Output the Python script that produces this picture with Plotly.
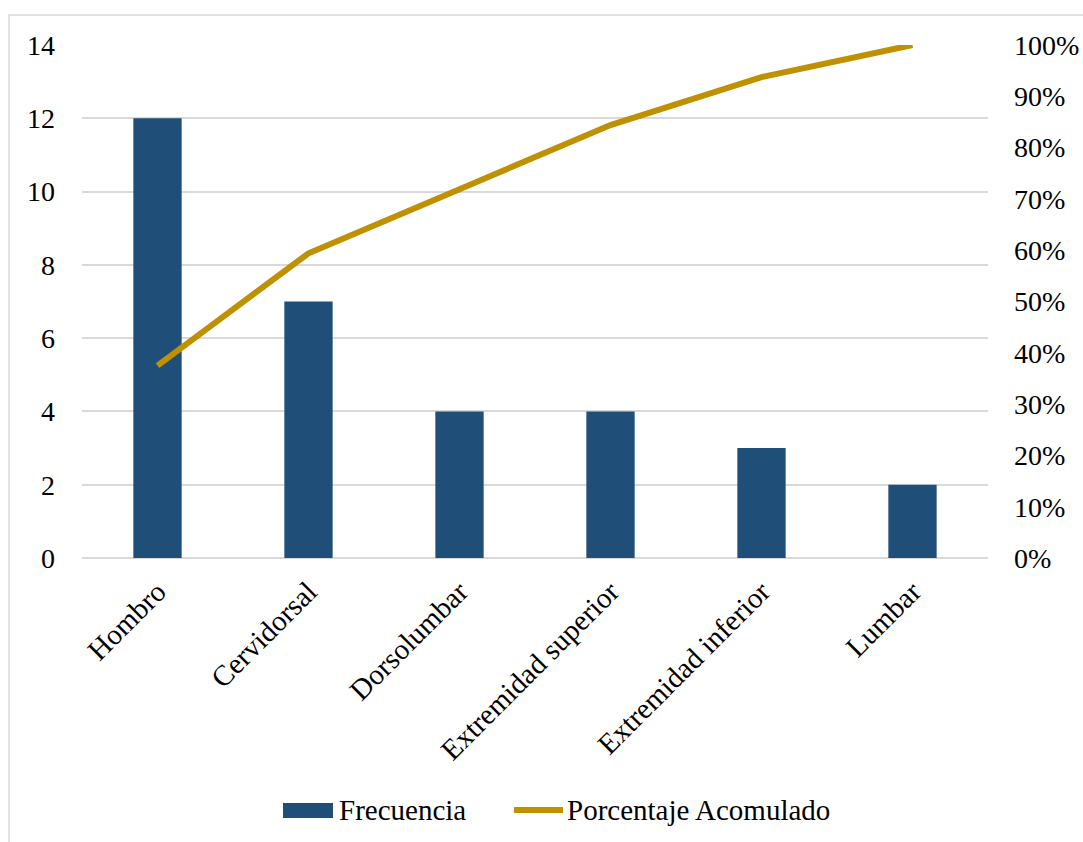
import plotly.graph_objects as go

categories = ["Hombro", "Cervidorsal", "Dorsolumbar", "Extremidad superior", "Extremidad inferior", "Lumbar"]
frecuencia = [12, 7, 4, 4, 3, 2]
acumulado = [0.375, 0.594, 0.719, 0.844, 0.9375, 1.0]
left_ticks = [0, 2, 4, 6, 8, 10, 12, 14]
right_ticks = [0, 0.1, 0.2, 0.3, 0.4, 0.5, 0.6, 0.7, 0.8, 0.9, 1.0]
right_labels = ["0%", "10%", "20%", "30%", "40%", "50%", "60%", "70%", "80%", "90%", "100%"]
series_names = ["Frecuencia", "Porcentaje Acomulado"]

FONT = "Liberation Serif"
FS_X = 29
FS_Y = 28
FS_LEG = 29
BAR_COLOR = "#1F4E79"
LINE_COLOR = "#BF9000"

# plot-area geometry (pixels) for converting legend/border positions to paper coords
PL, PR, PT, PB = 82, 988, 45, 558
def px(x):
    return (x - PL) / (PR - PL)
def py(y):
    return (PB - y) / (PB - PT)

fig = go.Figure()
fig.add_trace(go.Bar(
    x=categories, y=frecuencia, name=series_names[0],
    marker=dict(color=BAR_COLOR, line=dict(width=0)), showlegend=False,
))
fig.add_trace(go.Scatter(
    x=categories, y=acumulado, name=series_names[1], yaxis="y2",
    mode="lines", line=dict(color=LINE_COLOR, width=6), showlegend=False,
))

shapes = [
    dict(type="rect", xref="paper", yref="paper",
         x0=px(9), x1=1.3, y0=-1.0, y1=py(15),
         line=dict(color="#D9D9D9", width=1.5), fillcolor="rgba(0,0,0,0)", layer="below"),
    # legend symbols
    dict(type="rect", xref="paper", yref="paper",
         x0=px(283), x1=px(333), y0=py(818), y1=py(803),
         line=dict(width=0), fillcolor=BAR_COLOR),
    dict(type="line", xref="paper", yref="paper",
         x0=px(514), x1=px(563), y0=py(810), y1=py(810),
         line=dict(color=LINE_COLOR, width=6)),
]
annotations = [
    dict(xref="paper", yref="paper", x=px(337), y=py(810), text=series_names[0],
         showarrow=False, xanchor="left", yanchor="middle",
         font=dict(family=FONT, size=FS_LEG, color="black")),
    dict(xref="paper", yref="paper", x=px(565), y=py(810), text=series_names[1],
         showarrow=False, xanchor="left", yanchor="middle",
         font=dict(family=FONT, size=FS_LEG, color="black")),
]

fig.update_layout(
    width=1083, height=842,
    margin=dict(l=PL, r=1083 - PR, t=PT, b=842 - PB),
    paper_bgcolor="white", plot_bgcolor="white",
    font=dict(family=FONT, size=FS_Y, color="black"),
    bargap=0.68,
    showlegend=False,
    xaxis=dict(
        tickangle=-45, showgrid=False, showline=False, ticks="", ticklabelstandoff=10,
        automargin=False,
        tickfont=dict(family=FONT, size=FS_X, color="black"),
    ),
    yaxis=dict(
        range=[0, 14], tickvals=left_ticks, showgrid=True, gridcolor="#D9D9D9", gridwidth=1.5,
        zeroline=True, zerolinecolor="#D9D9D9", zerolinewidth=1.5,
        showline=False, ticks="", ticklabelstandoff=26, automargin=False,
        tickfont=dict(family=FONT, size=FS_Y, color="black"),
    ),
    yaxis2=dict(
        range=[0, 1], tickvals=right_ticks, ticktext=right_labels, overlaying="y", side="right",
        showgrid=False, zeroline=False, showline=False, ticks="", ticklabelstandoff=25,
        automargin=False,
        tickfont=dict(family=FONT, size=FS_Y, color="black"),
    ),
    shapes=shapes,
    annotations=annotations,
)

fig.write_html("out.html")
